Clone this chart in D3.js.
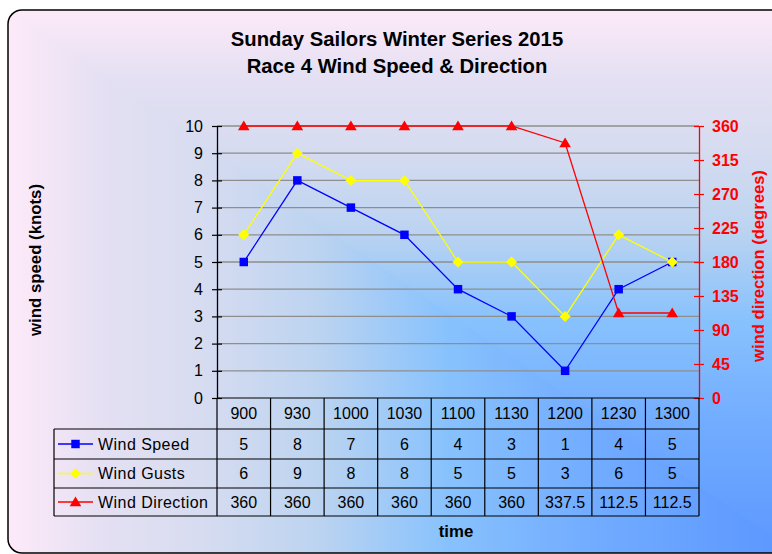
<!DOCTYPE html>
<html>
<head>
<meta charset="utf-8">
<script src="https://cdn.jsdelivr.net/npm/d3@7"></script>
<style>
  html, body { margin: 0; padding: 0; background: #ffffff; }
  svg { display: block; }
  text { font-family: "Liberation Sans", Arial, sans-serif; }
</style>
</head>
<body>
<svg id="chart" width="772" height="554"></svg>
<script>
// ---- data ----
const categories = ["900", "930", "1000", "1030", "1100", "1130", "1200", "1230", "1300"];
const windSpeed = [5, 8, 7, 6, 4, 3, 1, 4, 5];
const windGusts = [6, 9, 8, 8, 5, 5, 3, 6, 5];
const windDirection = [360, 360, 360, 360, 360, 360, 337.5, 112.5, 112.5];
const leftTicks = [0, 1, 2, 3, 4, 5, 6, 7, 8, 9, 10];
const rightTicks = [0, 45, 90, 135, 180, 225, 270, 315, 360];
const titleLines = ["Sunday Sailors Winter Series 2015", "Race 4 Wind Speed & Direction"];

const series = [
  { name: "Wind Speed", values: windSpeed, axis: "left", color: "#0000ff", marker: "square" },
  { name: "Wind Gusts", values: windGusts, axis: "left", color: "#ffff00", marker: "diamond" },
  { name: "Wind Direction", values: windDirection, axis: "right", color: "#ff0000", marker: "triangle" }
];

const FONT = "'Liberation Sans', Arial, sans-serif";
const svg = d3.select("#chart");
const defs = svg.append("defs");

// ---- background (corner gradient) ----
const bx0 = 8, by0 = 10, bx1 = 776, by1 = 553;
const stops = [
  [0, "#fdeaf9"], [0.12, "#e5e0f3"], [0.25, "#d7dcf0"], [0.4, "#bdd4f0"],
  [0.57, "#88c2fd"], [0.75, "#73adff"], [1, "#5c98ff"]
];
function grad(id, x1, y1, x2, y2) {
  const g = defs.append("linearGradient").attr("id", id)
    .attr("gradientUnits", "userSpaceOnUse")
    .attr("x1", x1).attr("y1", y1).attr("x2", x2).attr("y2", y2);
  stops.forEach(s => g.append("stop").attr("offset", s[0]).attr("stop-color", s[1]));
}
grad("gh", bx0, 0, bx1, 0);
grad("gv", 0, by0, 0, by1);
defs.append("clipPath").attr("id", "bgclip").append("rect")
  .attr("x", bx0).attr("y", by0).attr("width", bx1 + 20 - bx0).attr("height", by1 - by0)
  .attr("rx", 14).attr("ry", 14);
const bg = svg.append("g").attr("clip-path", "url(#bgclip)");
bg.append("rect").attr("x", bx0).attr("y", by0).attr("width", bx1 + 20 - bx0).attr("height", by1 - by0)
  .attr("fill", "url(#gv)");
bg.append("polygon")
  .attr("points", `${bx0},${by0} ${bx0},${by1} ${bx1},${by1} ${bx1 + 20},${by1}`)
  .attr("fill", "url(#gh)");
svg.append("rect").attr("x", bx0).attr("y", by0).attr("width", bx1 + 20 - bx0).attr("height", by1 - by0)
  .attr("rx", 14).attr("ry", 14).attr("fill", "none").attr("stroke", "#000").attr("stroke-width", 1.5);

// ---- scales ----
const plotL = 217, plotR = 699, plotT = 126, plotB = 398;
const x = d3.scaleBand().domain(categories).range([plotL, plotR]).padding(0);
const cx = c => x(c) + x.bandwidth() / 2;
const yL = d3.scaleLinear().domain([0, 10]).range([plotB, plotT]);
const yR = d3.scaleLinear().domain([0, 360]).range([plotB, plotT]);

// ---- title ----
svg.append("g").selectAll("text").data(titleLines).join("text")
  .attr("x", 397).attr("y", (d, i) => 46 + i * 26.5)
  .attr("text-anchor", "middle").attr("font-size", 20.3).attr("font-weight", "bold")
  .attr("fill", "#000").text(d => d);

// ---- gridlines ----
svg.append("g").selectAll("line").data(leftTicks.filter(d => d > 0)).join("line")
  .attr("x1", plotL).attr("x2", plotR)
  .attr("y1", d => yL(d)).attr("y2", d => yL(d))
  .attr("stroke", "#8e8e8e").attr("stroke-width", 1.3);

// ---- axes ----
const axL = svg.append("g").attr("transform", `translate(${plotL},0)`)
  .call(d3.axisLeft(yL).tickValues(leftTicks).tickSizeInner(5).tickSizeOuter(0).tickPadding(9));
axL.select(".domain").attr("stroke", "#000").attr("stroke-width", 1.3);
axL.selectAll(".tick line").attr("x1", 5).attr("x2", -5).attr("stroke", "#000").attr("stroke-width", 1.2);
axL.selectAll(".tick text").attr("font-size", 16).attr("fill", "#000").attr("font-family", FONT);

const axR = svg.append("g").attr("transform", `translate(${plotR},0)`)
  .call(d3.axisRight(yR).tickValues(rightTicks).tickSizeInner(5).tickSizeOuter(0).tickPadding(8));
axR.select(".domain").attr("stroke", "#ff0000").attr("stroke-width", 1.3);
axR.selectAll(".tick line").attr("x1", -5).attr("x2", 5).attr("stroke", "#ff0000").attr("stroke-width", 1.2);
axR.selectAll(".tick text").attr("font-size", 16).attr("font-weight", "bold").attr("fill", "#ff0000")
  .attr("font-family", FONT);

// axis titles
svg.append("text").attr("transform", "translate(35,260) rotate(-90)")
  .attr("text-anchor", "middle").attr("dominant-baseline", "central")
  .attr("font-size", 16.8).attr("font-weight", "bold").attr("fill", "#000")
  .text("wind speed (knots)");
svg.append("text").attr("transform", "translate(758,266) rotate(-90)")
  .attr("text-anchor", "middle").attr("dominant-baseline", "central")
  .attr("font-size", 16.6).attr("font-weight", "bold").attr("fill", "#ff0000")
  .text("wind direction (degrees)");
svg.append("text").attr("x", 456).attr("y", 537)
  .attr("text-anchor", "middle").attr("font-size", 16.8).attr("font-weight", "bold").attr("fill", "#000")
  .text("time");

// ---- data table ----
const tableL = 54, rowH = [429, 459, 488, 516];
const tbl = svg.append("g").attr("stroke", "#000").attr("stroke-width", 1.2);
const bounds = categories.map(c => x(c)).concat([plotR]);
tbl.selectAll("line.v").data(bounds).join("line").attr("class", "v")
  .attr("x1", d => d).attr("x2", d => d).attr("y1", plotB).attr("y2", rowH[3]);
tbl.append("line").attr("x1", tableL).attr("x2", tableL).attr("y1", rowH[0]).attr("y2", rowH[3]);
tbl.selectAll("line.h").data(rowH).join("line").attr("class", "h")
  .attr("x1", tableL).attr("x2", plotR).attr("y1", d => d).attr("y2", d => d);
tbl.append("line").attr("x1", plotL).attr("x2", plotR).attr("y1", plotB).attr("y2", plotB);

// header labels
svg.append("g").selectAll("text").data(categories).join("text")
  .attr("x", d => cx(d)).attr("y", 413).attr("dominant-baseline", "central")
  .attr("text-anchor", "middle").attr("font-size", 16).attr("fill", "#000").text(d => d);

// marker symbols
function markerPath(type) {
  if (type === "square") return d3.symbol(d3.symbolSquare, 72)();
  if (type === "diamond") return "M0,-5.5L5.5,0L0,5.5L-5.5,0Z";
  return "M0,-5.5L5.8,4.2L-5.8,4.2Z";
}

series.forEach((s, si) => {
  const yc = (rowH[si] + rowH[si + 1]) / 2;
  const g = svg.append("g");
  g.append("line").attr("x1", 58).attr("x2", 93).attr("y1", yc).attr("y2", yc)
    .attr("stroke", s.color).attr("stroke-width", 1.4);
  g.append("path").attr("d", markerPath(s.marker)).attr("transform", `translate(75.5,${yc})`)
    .attr("fill", s.color);
  g.append("text").attr("x", 98).attr("y", yc).attr("dominant-baseline", "central")
    .attr("font-size", 16).attr("letter-spacing", 0.45).attr("fill", "#000").text(s.name);
  g.selectAll("text.val").data(s.values).join("text").attr("class", "val")
    .attr("x", (d, i) => cx(categories[i])).attr("y", yc).attr("dominant-baseline", "central")
    .attr("text-anchor", "middle").attr("font-size", 16).attr("fill", "#000").text(d => d);
});

// ---- lines & markers ----
series.forEach(s => {
  const ys = s.axis === "left" ? yL : yR;
  const line = d3.line().x((d, i) => cx(categories[i])).y(d => ys(d));
  svg.append("path").datum(s.values).attr("d", line)
    .attr("fill", "none").attr("stroke", s.color).attr("stroke-width", 1.3);
  svg.append("g").selectAll("path").data(s.values).join("path")
    .attr("d", markerPath(s.marker))
    .attr("transform", (d, i) => `translate(${cx(categories[i])},${ys(d)})`)
    .attr("fill", s.color);
});
</script>
</body>
</html>
